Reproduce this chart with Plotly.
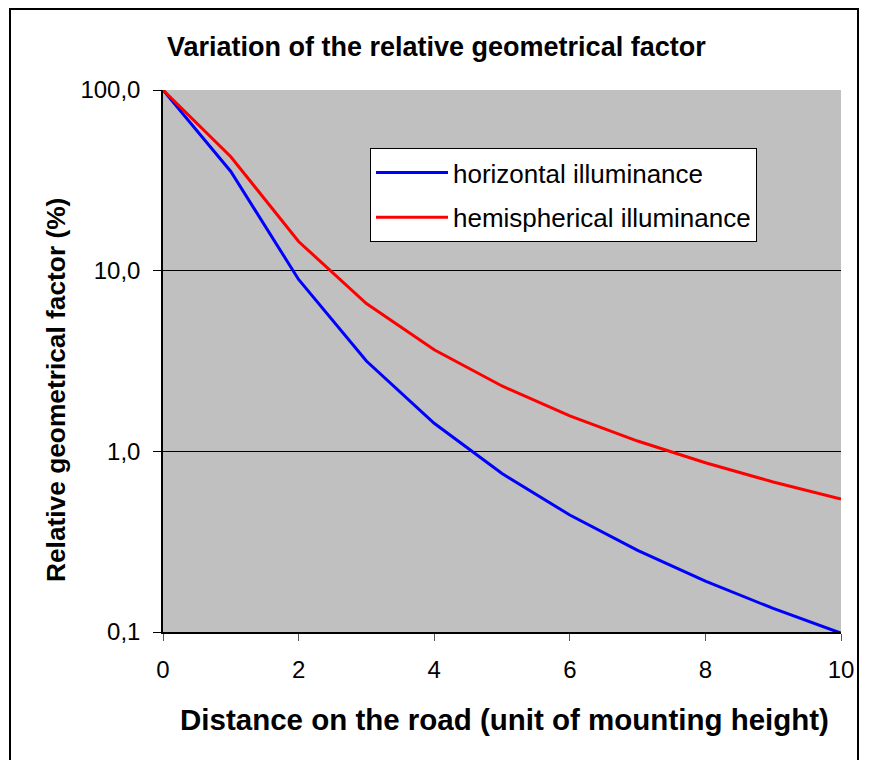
import plotly.graph_objects as go

distance = [0, 1, 2, 3, 4, 5, 6, 7, 8, 9, 10]
horizontal = [100.0, 35.4, 8.94, 3.16, 1.43, 0.754, 0.444, 0.283, 0.191, 0.135, 0.0985]
hemispherical = [100.0, 42.7, 14.5, 6.58, 3.65, 2.30, 1.57, 1.14, 0.865, 0.677, 0.544]
series_names = ["horizontal illuminance", "hemispherical illuminance"]
y_tick_vals = [0.1, 1, 10, 100]
y_tick_text = ["0,1", "1,0", "10,0", "100,0"]
x_tick_vals = [0, 2, 4, 6, 8, 10]

OFF = 8  # page body margin
W, H = 862, 752
L, T = 163 - OFF, 90 - OFF
R = W - (841 - OFF)
B = H - (632 - OFF)
pw, ph = W - L - R, H - T - B

def px(x):
    return (x - OFF - L) / pw

def py(y):
    return (H - B - (y - OFF)) / ph

FONT = "Liberation Sans, Arial, sans-serif"

fig = go.Figure()
fig.add_trace(go.Scatter(x=distance, y=horizontal, mode="lines", name=series_names[0],
                         line=dict(color="#0000FF", width=3), legendgroup="a"))
fig.add_trace(go.Scatter(x=distance, y=hemispherical, mode="lines", name=series_names[1],
                         line=dict(color="#FF0000", width=3), legendgroup="b"))

fig.update_layout(
    width=W, height=H,
    margin=dict(l=L, r=R, t=T, b=B, pad=0),
    paper_bgcolor="white",
    plot_bgcolor="#C0C0C0",
    font=dict(family=FONT, size=24, color="black"),
    showlegend=True,
    legend=dict(x=px(370), y=py(148), xanchor="left", yanchor="top",
                bgcolor="white", bordercolor="black", borderwidth=1,
                font=dict(family=FONT, size=26, color="black"),
                traceorder="grouped", tracegroupgap=8, itemwidth=72),
    xaxis=dict(range=[0, 10], tickvals=x_tick_vals, ticks="outside", ticklen=7,
               tickcolor="#555", showline=True, linecolor="black", linewidth=1.5,
               showgrid=False, zeroline=False, tickfont=dict(size=24),
               ticklabelstandoff=8),
    yaxis=dict(type="log", range=[-1, 2], tickvals=y_tick_vals, ticktext=y_tick_text,
               ticks="outside", ticklen=8, tickcolor="black", showline=True,
               linecolor="black", linewidth=1.5, showgrid=True, gridcolor="black",
               gridwidth=1, zeroline=False, tickfont=dict(size=24),
               ticklabelstandoff=8),
)

fig.add_annotation(text="Variation of the relative geometrical factor", xref="paper", yref="paper",
                   x=px(436), y=py(47), showarrow=False, xanchor="center", yanchor="middle",
                   font=dict(family=FONT, size=27, color="black", weight="bold"))
fig.add_annotation(text="Distance on the road (unit of mounting height)", xref="paper", yref="paper",
                   x=px(504), y=py(719), showarrow=False, xanchor="center", yanchor="middle",
                   font=dict(family=FONT, size=29.5, color="black", weight="bold"))
fig.add_annotation(text="Relative geometrical factor (%)", xref="paper", yref="paper",
                   x=px(56), y=py(390), showarrow=False, xanchor="center", yanchor="middle",
                   textangle=-90, font=dict(family=FONT, size=26.3, color="black", weight="bold"))

fig.add_shape(type="rect", xref="paper", yref="paper",
              x0=px(10), x1=px(858), y0=py(800), y1=py(9),
              line=dict(color="black", width=2), fillcolor="rgba(0,0,0,0)", layer="above")

fig.write_html("out.html")
